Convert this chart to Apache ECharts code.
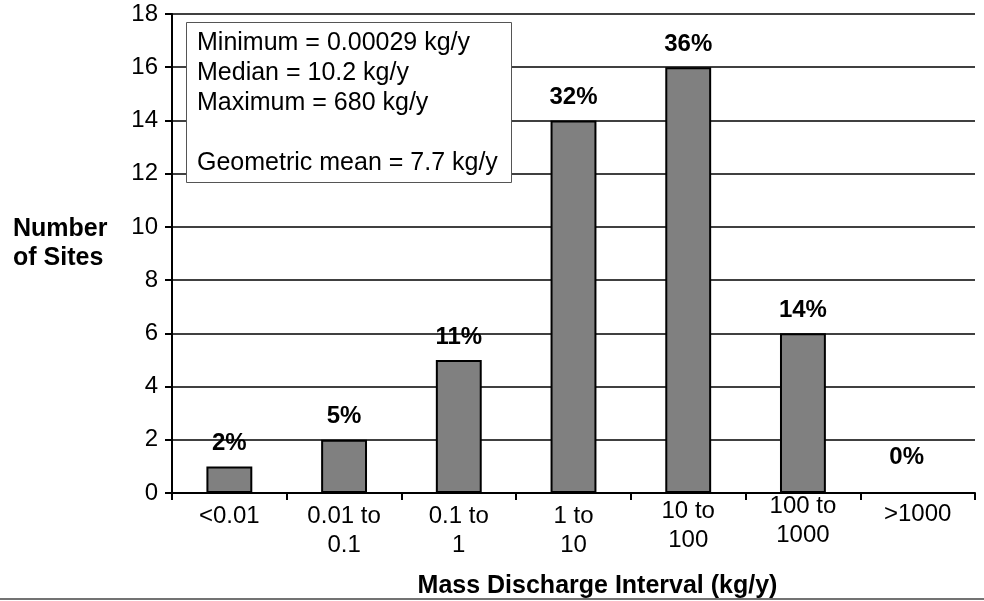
<!DOCTYPE html>
<html>
<head>
<meta charset="utf-8">
<script src="https://cdn.jsdelivr.net/npm/echarts@6/dist/echarts.min.js"></script>
<style>html,body{margin:0;padding:0;background:#fff}#c{width:984px;height:601px}</style>
</head>
<body>
<div id="c"></div>
<script>
var categories = ['<0.01', '0.01 to\n0.1', '0.1 to\n1', '1 to\n10', '10 to\n100', '100 to\n1000', '>1000'];
var siteCounts = [1, 2, 5, 14, 16, 6, 0];
var percentLabels = ['2%', '5%', '11%', '32%', '36%', '14%', '0%'];
var yTicks = [0, 2, 4, 6, 8, 10, 12, 14, 16, 18];
var statsLines = ['Minimum = 0.00029 kg/y', 'Median = 10.2 kg/y', 'Maximum = 680 kg/y', '', 'Geometric mean = 7.7 kg/y'];
var yTitle = 'Number\nof Sites';
var xTitle = 'Mass Discharge Interval (kg/y)';

var FONT = 'Liberation Sans, Arial, sans-serif';
var chart = echarts.init(document.getElementById('c'), null, {renderer: 'canvas'});

var catShift = [0, 0, 0, 0, -5, -10, -2];
var catData = categories.map(function (c, i) {
  var item = {value: c};
  if (catShift[i]) item.textStyle = {padding: [catShift[i], 0, 0, 0]};
  return item;
});

var barData = siteCounts.map(function (v, i) {
  var item = {value: v};
  if (v === 0) item.label = {offset: [-11, -12]};
  return item;
});

option = {
  animation: false,
  backgroundColor: '#fff',
  grid: {left: 172, right: 9, top: 14, bottom: 108, containLabel: false, outerBoundsMode: 'none'},
  xAxis: {
    type: 'category',
    data: catData,
    name: xTitle,
    nameLocation: 'middle',
    nameGap: 81,
    nameTextStyle: {fontFamily: FONT, fontSize: 25, fontWeight: 'bold', color: '#000', padding: [0, 0, 0, 48]},
    axisLine: {lineStyle: {color: '#000', width: 2}},
    axisTick: {show: true, alignWithLabel: false, length: 7, inside: false, lineStyle: {color: '#000', width: 2}},
    axisLabel: {interval: 0, margin: 9, fontFamily: FONT, fontSize: 24, color: '#000', lineHeight: 29},
    splitLine: {show: false}
  },
  yAxis: {
    type: 'value',
    min: 0,
    max: 18,
    interval: 2,
    axisLine: {show: true, lineStyle: {color: '#000', width: 2}},
    axisTick: {show: true, length: 7, lineStyle: {color: '#000', width: 2}},
    axisLabel: {margin: 14, fontFamily: FONT, fontSize: 24, color: '#000',
      formatter: function (v) { return yTicks.indexOf(v) >= 0 ? String(v) : ''; }},
    splitLine: {show: true, lineStyle: {color: '#000', width: 1.6}}
  },
  series: [{
    type: 'bar',
    data: barData,
    barWidth: '40%',
    itemStyle: {color: '#808080', borderColor: '#000', borderWidth: 2},
    label: {
      show: true,
      position: 'top',
      distance: 11,
      fontFamily: FONT,
      fontSize: 24,
      fontWeight: 'bold',
      color: '#000',
      formatter: function (p) { return percentLabels[p.dataIndex]; }
    },
    z: 3
  }],
  graphic: [
    {
      type: 'rect',
      z: 100,
      shape: {x: 186.5, y: 22.5, width: 325, height: 160},
      style: {fill: '#fff', stroke: '#555', lineWidth: 1}
    },
    {
      type: 'text',
      z: 101,
      left: 197,
      top: 28,
      style: {text: statsLines.join('\n'), font: '25px ' + FONT, fill: '#000', lineHeight: 30}
    },
    {
      type: 'text',
      z: 101,
      left: 13,
      top: 215,
      style: {text: yTitle, font: 'bold 25px ' + FONT, fill: '#000', lineHeight: 29}
    },
    {
      type: 'line',
      z: 101,
      shape: {x1: 0, y1: 599, x2: 984, y2: 599},
      style: {stroke: '#444', lineWidth: 1.5}
    }
  ]
};
chart.setOption(option);
</script>
</body>
</html>
